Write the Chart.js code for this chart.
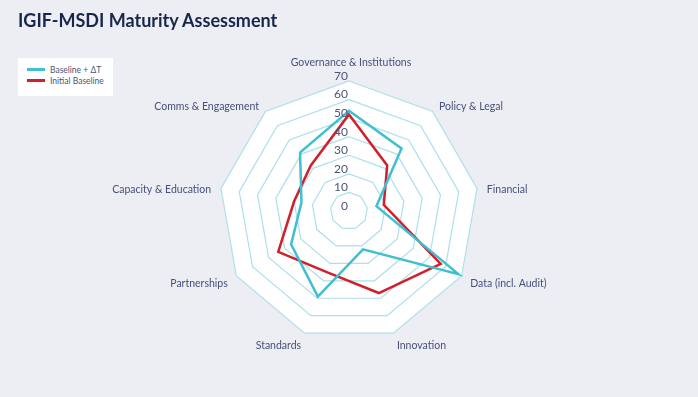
<!DOCTYPE html>
<html lang="en">
<head>
<meta charset="utf-8">
<title>IGIF-MSDI Maturity Assessment</title>
<script src="https://cdn.jsdelivr.net/npm/chart.js@4.4.1/dist/chart.umd.min.js"></script>
<style>
  html, body {
    margin: 0;
    padding: 0;
    width: 698px;
    height: 397px;
    background: #eceef3;
    overflow: hidden;
    font-family: Lato, "Open Sans", sans-serif;
  }
  .wrap {
    position: relative;
    width: 698px;
    height: 397px;
  }
  h1 {
    position: absolute;
    left: 18px;
    top: 9px;
    margin: 0;
    font-size: 18px;
    font-weight: 700;
    color: #17264b;
  }
  #chartBox {
    position: absolute;
    left: 0;
    top: 0;
    width: 698px;
    height: 397px;
  }
  .legend {
    position: absolute;
    left: 18px;
    top: 58px;
    width: 95px;
    height: 38px;
    background: #ffffff;
    box-sizing: border-box;
    padding: 6px 0 0 9px;
  }
  .legend-item {
    display: flex;
    align-items: center;
    height: 11px;
    font-size: 8.5px;
    color: #4a5478;
  }
  .legend-swatch {
    width: 18px;
    height: 3px;
    margin-right: 5px;
  }
</style>
</head>
<body>
<div class="wrap">
  <div id="chartBox"><canvas id="radarChart" width="698" height="397"></canvas></div>
  <h1>IGIF-MSDI Maturity Assessment</h1>
  <div class="legend" id="legendBox"></div>
</div>
<script>
const categories = [
  "Governance & Institutions",
  "Policy & Legal",
  "Financial",
  "Data (incl. Audit)",
  "Innovation",
  "Standards",
  "Partnerships",
  "Capacity & Education",
  "Comms & Engagement",
];
const baselineDeltaT = [54, 44, 15, 68, 22, 49, 36, 26, 41];
const initialBaseline = [52, 32, 19, 57, 47, 35, 44, 30, 32];
const tickValues = [0, 10, 20, 30, 40, 50, 60, 70];

const seriesNames = ["Baseline + \u0394T", "Initial Baseline"];
const seriesColors = ["#3fbfd0", "#d0202c"];

// white plate under the grid + custom tick / point labels (Excel look)
const radarDecor = {
  id: "radarDecor",
  beforeDraw(chart) {
    const scale = chart.scales.r;
    const ctx = chart.ctx;
    ctx.save();
    ctx.beginPath();
    categories.forEach((_, i) => {
      const p = scale.getPointPosition(i, scale.drawingArea);
      if (i === 0) ctx.moveTo(p.x, p.y);
      else ctx.lineTo(p.x, p.y);
    });
    ctx.closePath();
    ctx.fillStyle = "#ffffff";
    ctx.fill();
    ctx.restore();
  },
  afterDraw(chart) {
    const scale = chart.scales.r;
    const ctx = chart.ctx;
    ctx.save();

    ctx.font = "12px Lato, 'Open Sans', sans-serif";
    ctx.fillStyle = "#4b5578";
    ctx.textAlign = "right";
    ctx.textBaseline = "middle";
    tickValues.forEach((v) => {
      const d = scale.getDistanceFromCenterForValue(v);
      ctx.fillText(String(v), scale.xCenter - 1, scale.yCenter - d - 5);
    });

    ctx.font = "10.5px Lato, 'Open Sans', sans-serif";
    ctx.fillStyle = "#46507a";
    categories.forEach((label, i) => {
      const p = scale.getPointPosition(i, scale.drawingArea + 10);
      const dx = p.x - scale.xCenter;
      if (Math.abs(dx) < 5) {
        ctx.textAlign = "center";
        ctx.textBaseline = "bottom";
        ctx.fillText(label, p.x + 2, p.y - 3);
        return;
      }
      ctx.textAlign = dx > 0 ? "left" : "right";
      ctx.textBaseline = "middle";
      ctx.fillText(label, p.x, p.y + 3);
    });
    ctx.restore();
  },
};

document.addEventListener("DOMContentLoaded", () => {
  const ctx = document.getElementById("radarChart").getContext("2d");

  const chart = new Chart(ctx, {
    type: "radar",
    data: {
      labels: categories,
      datasets: [
        {
          label: seriesNames[0],
          data: baselineDeltaT,
          borderColor: seriesColors[0],
          backgroundColor: seriesColors[0],
          borderWidth: 2.5,
          fill: false,
          pointRadius: 0,
          tension: 0,
        },
        {
          label: seriesNames[1],
          data: initialBaseline,
          borderColor: seriesColors[1],
          backgroundColor: seriesColors[1],
          borderWidth: 2.5,
          fill: false,
          pointRadius: 0,
          tension: 0,
        },
      ],
    },
    options: {
      responsive: false,
      animation: false,
      layout: {
        padding: { top: 81, bottom: 56, left: 0, right: 0 },
      },
      plugins: {
        legend: { display: false },
        tooltip: { enabled: false },
      },
      scales: {
        r: {
          min: 0,
          max: 70,
          ticks: { display: false, stepSize: 10 },
          pointLabels: { display: false },
          angleLines: { display: false },
          grid: { color: "#aedfea", lineWidth: 1.2, circular: false },
        },
      },
    },
    plugins: [radarDecor],
  });

  const legendBox = document.getElementById("legendBox");
  legendBox.innerHTML = chart.data.datasets
    .map(
      (ds) => `
      <div class="legend-item">
        <span class="legend-swatch" style="background:${ds.borderColor}"></span>${ds.label}
      </div>`,
    )
    .join("");
});
</script>
</body>
</html>
